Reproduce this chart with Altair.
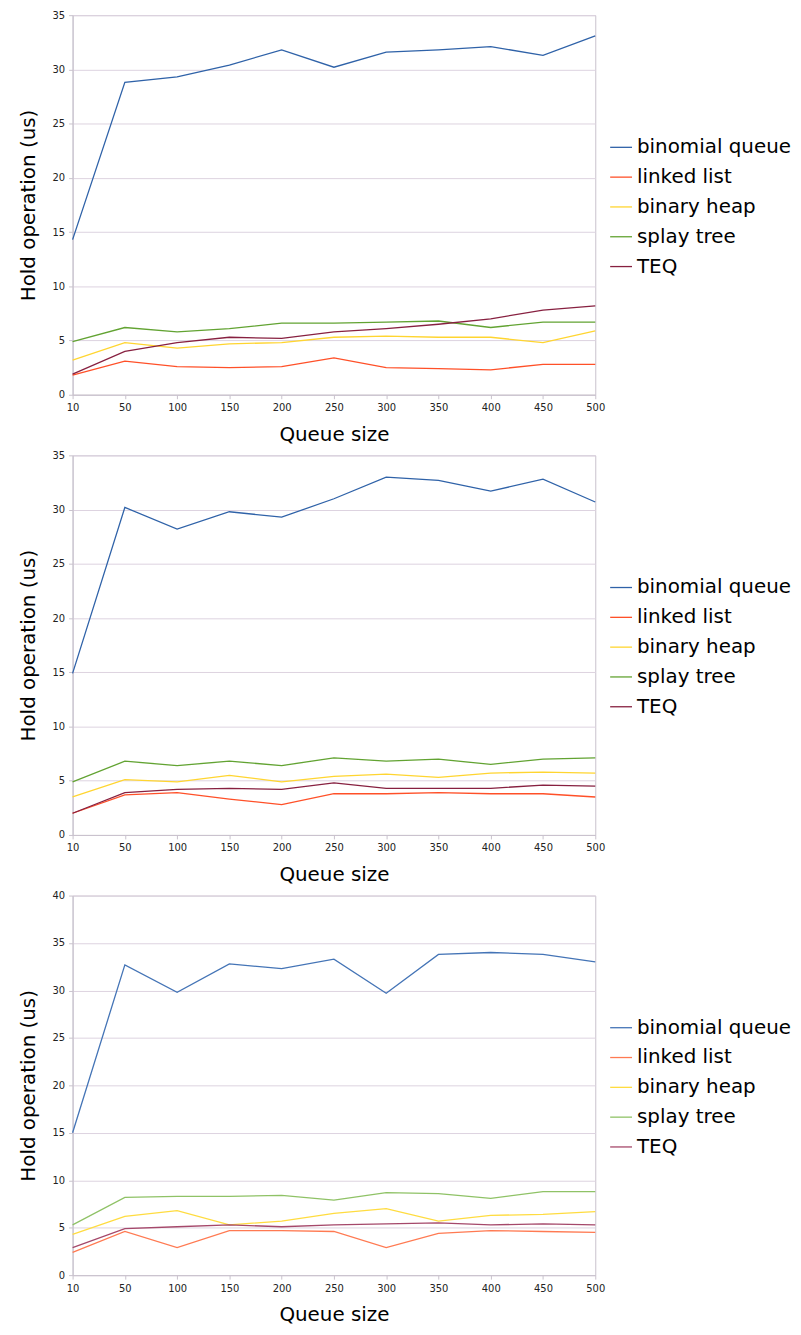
import altair as alt
import pandas as pd

sizes = ["10", "50", "100", "150", "200", "250", "300", "350", "400", "450", "500"]
series = ["binomial queue", "linked list", "binary heap", "splay tree", "TEQ"]

# Panel 1
p1_binomial = [14.3, 28.8, 29.3, 30.4, 31.8, 30.2, 31.6, 31.8, 32.1, 31.3, 33.1]
p1_linked = [1.8, 3.1, 2.6, 2.5, 2.6, 3.4, 2.5, 2.4, 2.3, 2.8, 2.8]
p1_heap = [3.2, 4.8, 4.3, 4.7, 4.8, 5.3, 5.4, 5.3, 5.3, 4.8, 5.9]
p1_splay = [4.9, 6.2, 5.8, 6.1, 6.6, 6.6, 6.7, 6.8, 6.2, 6.7, 6.7]
p1_teq = [1.9, 4.0, 4.8, 5.3, 5.2, 5.8, 6.1, 6.5, 7.0, 7.8, 8.2]

# Panel 2
p2_binomial = [14.9, 30.2, 28.2, 29.8, 29.3, 31.0, 33.0, 32.7, 31.7, 32.8, 30.7]
p2_linked = [2.0, 3.7, 3.9, 3.3, 2.8, 3.8, 3.8, 3.9, 3.8, 3.8, 3.5]
p2_heap = [3.5, 5.1, 4.9, 5.5, 4.9, 5.4, 5.6, 5.3, 5.7, 5.8, 5.7]
p2_splay = [4.9, 6.8, 6.4, 6.8, 6.4, 7.1, 6.8, 7.0, 6.5, 7.0, 7.1]
p2_teq = [2.0, 3.9, 4.2, 4.3, 4.2, 4.8, 4.3, 4.3, 4.3, 4.6, 4.5]

# Panel 3
p3_binomial = [15.0, 32.7, 29.8, 32.8, 32.3, 33.3, 29.7, 33.8, 34.0, 33.8, 33.0]
p3_linked = [2.4, 4.6, 2.9, 4.7, 4.7, 4.6, 2.9, 4.4, 4.7, 4.6, 4.5]
p3_heap = [4.3, 6.2, 6.8, 5.3, 5.7, 6.5, 7.0, 5.7, 6.3, 6.4, 6.7]
p3_splay = [5.3, 8.2, 8.3, 8.3, 8.4, 7.9, 8.7, 8.6, 8.1, 8.8, 8.8]
p3_teq = [2.9, 4.9, 5.1, 5.3, 5.1, 5.3, 5.4, 5.5, 5.3, 5.4, 5.3]

colors_a = ["#2f62a8", "#ff5028", "#ffd530", "#62a332", "#872040"]
colors_b = ["#4474b6", "#ff7a52", "#ffdc40", "#8fc266", "#a5486a"]

FONT = "DejaVu Sans"


def make_df(lists):
    rows = []
    for name, vals in zip(series, lists):
        for s, v in zip(sizes, vals):
            rows.append({"size": s, "value": v, "series": name})
    return pd.DataFrame(rows)


def panel(lists, ymax, colors):
    df = make_df(lists)
    return alt.Chart(df).mark_line(strokeWidth=1.3).encode(
        x=alt.X("size:O", sort=sizes, title="Queue size",
                scale=alt.Scale(padding=0),
                axis=alt.Axis(labelAngle=0, grid=False)),
        y=alt.Y("value:Q", title="Hold operation (us)",
                scale=alt.Scale(domain=[0, ymax], nice=False),
                axis=alt.Axis(values=list(range(0, ymax + 1, 5)))),
        color=alt.Color("series:N",
                        scale=alt.Scale(domain=series, range=colors),
                        legend=alt.Legend(title=None, orient="none",
                                          legendX=540, legendY=121,
                                          symbolType="stroke", symbolSize=484,
                                          symbolStrokeWidth=1.3,
                                          labelFontSize=20, labelFont=FONT,
                                          labelColor="black", rowPadding=8,
                                          labelOffset=4, padding=0)),
        order=alt.value(0),
    ).properties(width=526, height=382)


chart = alt.vconcat(
    panel([p1_binomial, p1_linked, p1_heap, p1_splay, p1_teq], 35, colors_a),
    panel([p2_binomial, p2_linked, p2_heap, p2_splay, p2_teq], 35, colors_a),
    panel([p3_binomial, p3_linked, p3_heap, p3_splay, p3_teq], 40, colors_b),
    spacing=61,
    bounds="flush",
).resolve_scale(color="independent", y="independent").properties(
    padding={"left": 9, "top": -3, "right": 0, "bottom": 0}
).configure_view(
    stroke="#c9c2cd", strokeWidth=1
).configure_axis(
    labelFont=FONT, labelFontSize=10, labelColor="#222",
    titleFont=FONT, titleFontSize=20, titleFontWeight="normal", titleColor="black",
    domainColor="#c9c2cd", tickColor="#c9c2cd", tickSize=4,
    gridColor="#ddd3e0", labelPadding=4,
).configure_axisY(
    titlePadding=14,
).configure_axisX(
    titlePadding=12,
)

chart.save("out.html", embed_options={"renderer": "svg", "actions": False})
